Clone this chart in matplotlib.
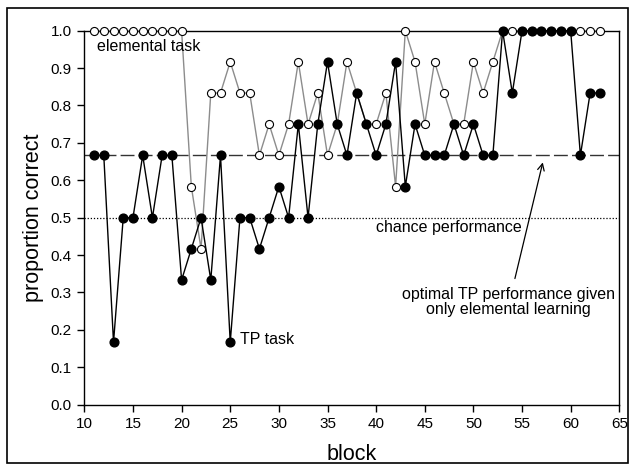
import matplotlib
matplotlib.use("Agg")
import matplotlib.pyplot as plt
from matplotlib.patches import Rectangle

plt.rcParams['font.family'] = ['Liberation Sans', 'DejaVu Sans']

# blocks 11..63
blocks = list(range(11, 64))

# proportion correct, in twelfths
elemental = [12, 12, 12, 12, 12, 12, 12, 12, 12, 12,   # 11-20
             7, 5, 10, 10, 11, 10, 10, 8, 9, 8,        # 21-30
             9, 11, 9, 10, 8, 9, 11, 10, 9, 9,         # 31-40
             10, 7, 12, 11, 9, 11, 10, 9, 9, 11,       # 41-50
             10, 11, 12, 12, 12, 12, 12, 12, 12, 12,   # 51-60
             12, 12, 12]                               # 61-63
tp_task = [8, 8, 2, 6, 6, 8, 6, 8, 8, 4,               # 11-20
           5, 6, 4, 8, 2, 6, 6, 5, 6, 7,               # 21-30
           6, 9, 6, 9, 11, 9, 8, 10, 9, 8,             # 31-40
           9, 11, 7, 9, 8, 8, 8, 9, 8, 9,              # 41-50
           8, 8, 12, 10, 12, 12, 12, 12, 12, 12,       # 51-60
           8, 10, 10]                                  # 61-63
elemental = [v / 12 for v in elemental]
tp_task = [v / 12 for v in tp_task]

chance = 0.5
optimal = 2 / 3

fig = plt.figure(figsize=(6.35, 4.70), dpi=100)
ax = fig.add_axes([0.1328, 0.139, 0.8425, 0.7957])

# reference lines
ax.axhline(optimal, color="#333333", lw=1.0, dashes=(10, 3), zorder=1)
ax.axhline(chance, color="black", lw=0.9, ls=(0, (1, 1.5)), zorder=1)

# elemental task (open circles, grey line)
ax.plot(blocks, elemental, color="#8c8c8c", lw=1.0, marker="o", ms=5.8,
        mfc="white", mec="black", mew=0.8, clip_on=False, zorder=3)
# TP task (filled circles, black line)
ax.plot(blocks, tp_task, color="black", lw=1.0, marker="o", ms=6.3,
        mfc="black", mec="black", clip_on=False, zorder=4)

ax.set_xlim(10, 65)
ax.set_ylim(0, 1.0)
ax.set_xticks(range(10, 66, 5))
ax.set_yticks([i / 10 for i in range(11)])
ax.set_yticklabels(["%.1f" % (i / 10) for i in range(11)])
ax.tick_params(direction="out", length=5, width=1, labelsize=11, pad=4)
for s in ax.spines.values():
    s.set_linewidth(1.0)

ax.set_xlabel("block", fontsize=15.5, labelpad=9)
ax.set_ylabel("proportion correct", fontsize=15.5, labelpad=5)

# annotations
ax.text(11.3, 0.959, "elemental task", fontsize=11.5, va="center", ha="left")
ax.text(26.0, 0.173, "TP task", fontsize=11.5, va="center", ha="left")
ax.text(40.0, 0.474, "chance performance", fontsize=11.5, va="center", ha="left")
ax.text(53.6, 0.274, "optimal TP performance given\nonly elemental learning",
        fontsize=11.5, va="center", ha="center", linespacing=0.95)
ax.annotate("", xy=(57.2, 0.655), xytext=(54.2, 0.33),
            arrowprops=dict(arrowstyle="->", color="black", lw=0.9,
                            mutation_scale=12))

# outer frame around the figure
fig.patches.append(Rectangle((7 / 635, 1 - 463 / 470), 621 / 635, 455 / 470,
                             transform=fig.transFigure, fill=False,
                             edgecolor="black", lw=1.2))

fig.savefig("out.png", dpi=100)
